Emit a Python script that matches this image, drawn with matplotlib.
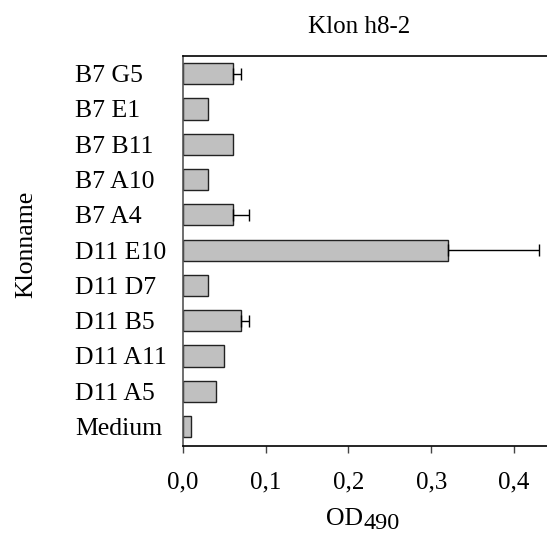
import matplotlib
matplotlib.use("Agg")
import matplotlib.pyplot as plt
from matplotlib.ticker import FuncFormatter

plt.rcParams["font.family"] = "Liberation Serif"

# bottom to top
clones = ["Medium", "D11 A5", "D11 A11", "D11 B5", "D11 D7", "D11 E10",
          "B7 A4", "B7 A10", "B7 B11", "B7 E1", "B7 G5"]
od_values = [0.01, 0.04, 0.05, 0.07, 0.03, 0.32, 0.06, 0.03, 0.06, 0.03, 0.06]
od_errors = [0, 0, 0, 0.01, 0, 0.11, 0.02, 0, 0, 0, 0.01]
x_ticks = [0.0, 0.1, 0.2, 0.3, 0.4]

fig = plt.figure(figsize=(5.47, 5.35), dpi=100)
ax = fig.add_axes([0.3346, 0.1664, 0.6654, 0.7289])

pos = range(len(clones))
ax.barh(pos, od_values, height=0.6, color="#c0c0c0", edgecolor="#222222",
        linewidth=1.0, zorder=2)
for p, v, e in zip(pos, od_values, od_errors):
    if e > 0:
        ax.errorbar(v, p, xerr=[[0], [e]], fmt="none", ecolor="black",
                    elinewidth=1.0, capsize=4, capthick=1.0, zorder=3)

ax.set_xlim(0, 0.44)
ax.set_ylim(-0.55, 10.5)
ax.set_xticks(x_ticks)
ax.xaxis.set_major_formatter(FuncFormatter(lambda v, _: f"{v:.1f}".replace(".", ",")))
ax.set_yticks(list(pos))
ax.set_yticklabels(clones, ha="left")
ax.tick_params(axis="y", length=0, labelsize=18.5, pad=77.5)
ax.tick_params(axis="x", direction="out", length=5, width=1, labelsize=18, pad=13.5, color="#444444")

ax.spines["right"].set_visible(False)
for s in ["top", "bottom", "left"]:
    ax.spines[s].set_linewidth(1.2)
ax.spines["left"].set_color("#555555")

# x label: "OD" with a lowered, nearly full-size "490"
ax.text(0.4945, -0.203, "OD", transform=ax.transAxes, ha="right", va="baseline",
        fontsize=18.5, clip_on=False)
ax.text(0.4945, -0.213, "490", transform=ax.transAxes, ha="left", va="baseline",
        fontsize=17.5, clip_on=False)

ax.set_ylabel("Klonname", fontsize=18.5)
ax.yaxis.set_label_coords(-0.40, 0.518)
fig.text(0.656, 0.95, "Klon h8-2", ha="center", va="center", fontsize=18)

fig.savefig("out.png", dpi=100)
